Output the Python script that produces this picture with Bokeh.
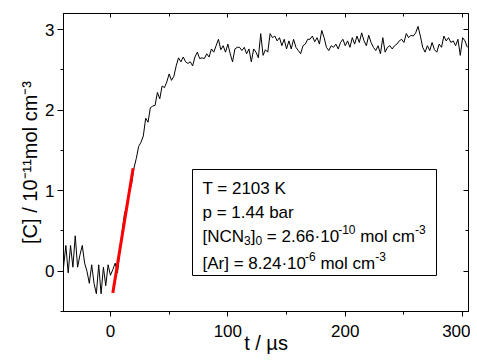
import numpy as np
from bokeh.plotting import figure
from bokeh.models import LinearAxis, SingleIntervalTicker, Label, BoxAnnotation, CustomJSTickFormatter, Title
from bokeh.embed import file_html
from bokeh.resources import INLINE

# ---- data ----
t_start, t_step = -40, 2
signal = [
    0.05, 0.32, -0.02, 0.32, 0.05, 0.44, 0.05, 0.20, 0.32, 0.10,
    0.00, -0.15, 0.08, -0.15, -0.28, 0.08, -0.28, 0.05, -0.18, 0.08,
    -0.05, 0.02, 0.10, -0.02, 0.25, 0.50, 0.72, 0.80, 0.98, 1.08,
    1.28, 1.40, 1.55, 1.60, 1.68, 1.90, 1.85, 2.03, 2.05, 2.06,
    2.22, 2.14, 2.30, 2.28, 2.35, 2.45, 2.37, 2.42, 2.55, 2.65,
    2.60, 2.66, 2.60, 2.58, 2.60, 2.55, 2.66, 2.72, 2.64, 2.65,
    2.64, 2.70, 2.66, 2.76, 2.72, 2.80, 2.88, 2.75, 2.80, 2.72,
    2.82, 2.70, 2.60, 2.76, 2.78, 2.78, 2.74, 2.78, 2.70, 2.76,
    2.60, 2.76, 2.72, 2.65, 2.95, 2.68, 2.75, 2.72, 2.95, 2.90,
    2.92, 2.86, 2.90, 2.80, 2.88, 2.76, 2.86, 2.76, 2.88, 2.78,
    2.74, 2.70, 2.80, 2.82, 2.88, 2.88, 2.92, 2.85, 2.90, 2.82,
    2.99, 2.90, 2.78, 2.74, 2.80, 2.78, 2.82, 2.76, 2.84, 2.88,
    2.80, 2.86, 2.78, 2.90, 2.82, 2.92, 2.84, 2.96, 2.86, 2.80,
    2.93, 2.84, 2.78, 2.74, 2.80, 2.70, 2.90, 2.72, 2.78, 2.80,
    2.76, 2.80, 2.82, 2.86, 2.88, 2.84, 2.95, 2.90, 2.93, 2.92,
    2.96, 3.04, 2.92, 2.78, 2.72, 2.80, 2.74, 2.84, 2.75, 2.72,
    2.82, 2.78, 2.92, 2.86, 2.90, 2.84, 2.86, 2.80, 2.88, 2.68,
    2.90, 2.86, 2.78,
]
time = [t_start + t_step * i for i in range(len(signal))]

fit_t = [2.0, 19.3]
fit_v = [-0.27, 1.28]

x_ticks_interval = 100
y_ticks_interval = 1

x_label = "t / µs"
y_label = "[C] / 10\u207b\u00b9\u00b9mol cm\u207b\u00b3"

# ---- geometry ----
W, H = 470, 360
ML, MR, MT, MB = 63, 2, 13, 49
X0, X1 = -40, 305
Y0, Y1 = -0.5, 3.2
FW, FH = W - ML - MR, H - MT - MB
PL, PB = ML, MT + FH
def dx(px):
    return X0 + (px - PL) * (X1 - X0) / FW
def dy(py):
    return Y0 + (PB - py) * (Y1 - Y0) / FH

FONT = "Liberation Sans"

p = figure(width=W, height=H, x_range=(X0, X1), y_range=(Y0, Y1),
           output_backend="svg", toolbar_location=None,
           min_border_left=ML, min_border_right=MR, min_border_top=MT, min_border_bottom=MB)
p.grid.visible = False
p.outline_line_color = "black"
p.outline_line_width = 1
p.background_fill_color = "white"
p.border_fill_color = "white"

xt = SingleIntervalTicker(interval=x_ticks_interval, num_minor_ticks=2)
yt = SingleIntervalTicker(interval=y_ticks_interval, num_minor_ticks=2)

for ax in p.xaxis:
    ax.ticker = xt
    ax.major_tick_out = 5; ax.major_tick_in = 0
    ax.minor_tick_out = 3; ax.minor_tick_in = 0
    ax.major_label_standoff = 8
    ax.axis_label = x_label
    ax.axis_label_standoff = -8
for ax in p.yaxis:
    ax.ticker = yt
    ax.major_tick_out = 6; ax.major_tick_in = 0
    ax.minor_tick_out = 3; ax.minor_tick_in = 0
    ax.major_label_standoff = 3
for ax in list(p.xaxis) + list(p.yaxis):
    ax.major_label_text_font = FONT
    ax.major_label_text_font_size = "17px"
    ax.major_label_text_color = "black"
    ax.axis_label_text_font = FONT
    ax.axis_label_text_font_size = "20px"
    ax.axis_label_text_font_style = "normal"
    ax.axis_label_text_color = "black"
    ax.axis_line_color = "black"
    ax.major_tick_line_color = "black"
    ax.minor_tick_line_color = "black"

# y-axis title as a side-panel Title, so that it can be shifted upward like the reference
p.add_layout(Title(text=y_label, align="center", offset=13, standoff=4,
                   text_font=FONT, text_font_size="20px", text_font_style="normal",
                   text_color="black"), "left")

blank = CustomJSTickFormatter(code="return ''")
top = LinearAxis(ticker=SingleIntervalTicker(interval=x_ticks_interval, num_minor_ticks=2),
                 major_tick_in=4, major_tick_out=0, minor_tick_in=3, minor_tick_out=0,
                 formatter=blank, major_label_standoff=0)
right = LinearAxis(ticker=SingleIntervalTicker(interval=y_ticks_interval, num_minor_ticks=2),
                   major_tick_in=5, major_tick_out=0, minor_tick_in=3, minor_tick_out=0,
                   formatter=blank, major_label_standoff=0)
p.add_layout(top, "above")
p.add_layout(right, "right")

p.line(time, signal, line_color="black", line_width=1)
p.line(fit_t, fit_v, line_color="#ff0000", line_width=3)

def lab(text, px, py, size):
    p.add_layout(Label(x=dx(px), y=dy(py), text=text, text_font=FONT,
                       text_font_size=f"{size}px", text_color="black",
                       text_align="left", text_baseline="alphabetic"))

# info box
p.add_layout(BoxAnnotation(left=dx(192), right=dx(436), top=dy(169), bottom=dy(275),
                           fill_alpha=0, line_color="black", line_width=1, line_alpha=1))
lab("T = 2103 K", 202, 188, 17)
lab("p = 1.44 bar", 202, 211.5, 17)
lab("[NCN", 202, 236, 17)
lab("3", 243.5, 240, 12)
lab("]", 250.2, 236, 17)
lab("0", 254.9, 240, 12)
lab("= 2.66·10", 266.3, 236, 17)
lab("-10", 337.7, 229, 12)
lab("mol cm", 359.7, 236, 17)
lab("-3", 414.5, 229, 12)
lab("[Ar] = 8.24·10", 202, 263, 17)
lab("-6", 304.5, 256, 12)
lab("mol cm", 319.9, 263, 17)
lab("-3", 374.7, 256, 12)

open("out.html", "w").write(file_html(p, INLINE))
